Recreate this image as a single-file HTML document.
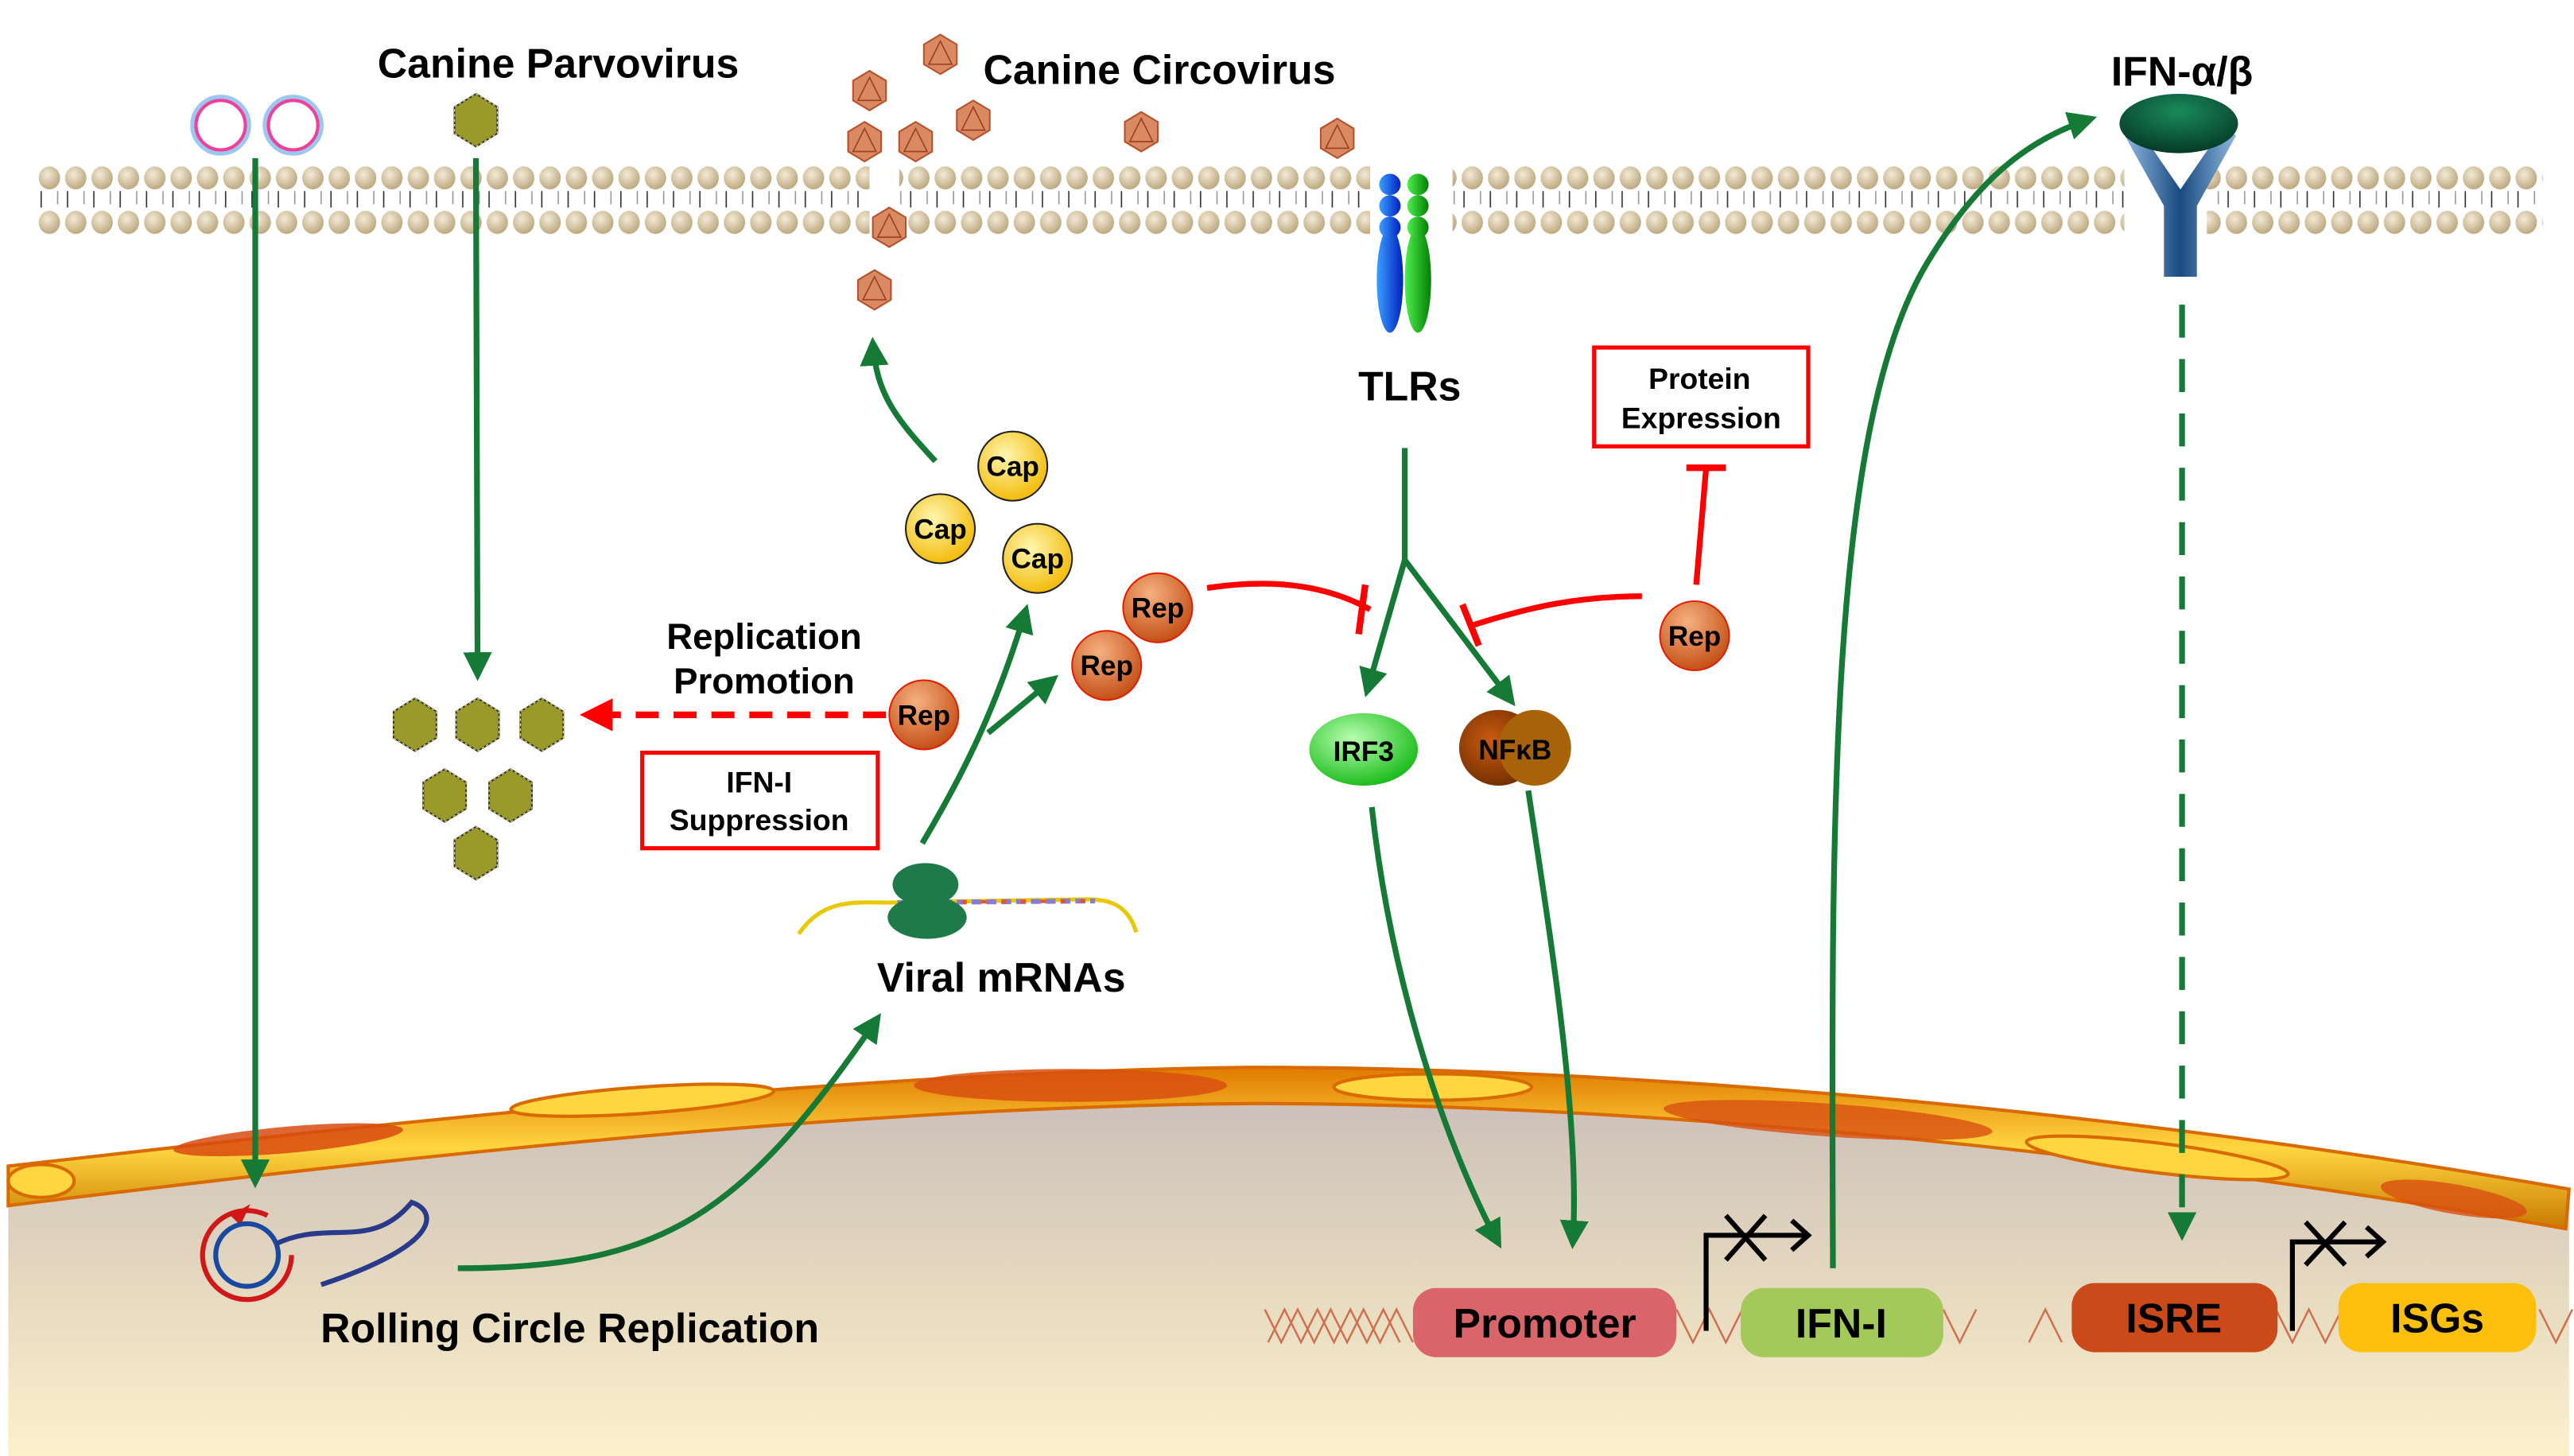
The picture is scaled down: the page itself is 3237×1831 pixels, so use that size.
<!DOCTYPE html>
<html><head><meta charset="utf-8"><style>
html,body{margin:0;padding:0;background:#fff;}
svg{display:block;}
text{font-family:"Liberation Sans",Arial,sans-serif;font-weight:bold;fill:#000;}
</style></head><body>
<svg width="3237" height="1831" viewBox="0 0 1563 884" preserveAspectRatio="none" xmlns="http://www.w3.org/2000/svg">
<defs>
<radialGradient id="head" cx="0.4" cy="0.35" r="0.7"><stop offset="0" stop-color="#f3ead6"/><stop offset="1" stop-color="#b9a47a"/></radialGradient>
<pattern id="mem" x="22" y="98" width="16" height="46" patternUnits="userSpaceOnUse">
<ellipse cx="8" cy="10" rx="6.5" ry="7" fill="url(#head)"/>
<ellipse cx="8" cy="37" rx="6.5" ry="7" fill="url(#head)"/>
<line x1="3" y1="18" x2="3" y2="28" stroke="#333" stroke-width="0.8"/>
<line x1="13" y1="18" x2="13" y2="26" stroke="#999" stroke-width="0.8"/>
</pattern>
<linearGradient id="nuc" x1="0" y1="0" x2="0" y2="1"><stop offset="0" stop-color="#c9bcb8"/><stop offset="0.5" stop-color="#e2d6bf"/><stop offset="1" stop-color="#fcf1cb"/></linearGradient>
<linearGradient id="env" x1="0" y1="0" x2="0" y2="1"><stop offset="0" stop-color="#e07a00"/><stop offset="0.5" stop-color="#ffd640"/><stop offset="1" stop-color="#c87a00"/></linearGradient>
<radialGradient id="cap" cx="0.4" cy="0.35" r="0.7"><stop offset="0" stop-color="#fff6b0"/><stop offset="1" stop-color="#f2b800"/></radialGradient>
<radialGradient id="rep" cx="0.4" cy="0.3" r="0.75"><stop offset="0" stop-color="#f6b080"/><stop offset="1" stop-color="#c14a10"/></radialGradient>
<radialGradient id="irf" cx="0.4" cy="0.35" r="0.7"><stop offset="0" stop-color="#b8ffb0"/><stop offset="1" stop-color="#14b814"/></radialGradient>
<radialGradient id="nfk" cx="0.4" cy="0.4" r="0.7"><stop offset="0" stop-color="#c85a10"/><stop offset="1" stop-color="#6a2a00"/></radialGradient>
<radialGradient id="ifnh" cx="0.5" cy="0.3" r="0.7"><stop offset="0" stop-color="#1a8a5a"/><stop offset="1" stop-color="#053a28"/></radialGradient>
<linearGradient id="stalk" x1="0" y1="0" x2="1" y2="0"><stop offset="0" stop-color="#8fb8e0"/><stop offset="0.5" stop-color="#1a4a80"/><stop offset="1" stop-color="#8fb8e0"/></linearGradient>
<linearGradient id="tlrb" x1="0" y1="0" x2="1" y2="0"><stop offset="0" stop-color="#3aa0ff"/><stop offset="1" stop-color="#0020c0"/></linearGradient>
<linearGradient id="tlrg" x1="0" y1="0" x2="1" y2="0"><stop offset="0" stop-color="#50f050"/><stop offset="1" stop-color="#008000"/></linearGradient>
<marker id="ga" viewBox="0 0 10 10" refX="8" refY="5" markerWidth="5" markerHeight="5" orient="auto"><path d="M0,0 L10,5 L0,10 z" fill="#147a36"/></marker>
<marker id="ra" viewBox="0 0 10 10" refX="8" refY="5" markerWidth="5" markerHeight="5" orient="auto"><path d="M0,0 L10,5 L0,10 z" fill="#f00"/></marker>
<g id="parvo"><polygon points="0,-16 13,-8 13,8 0,16 -13,8 -13,-8" fill="#9a9a2a" stroke="#333" stroke-width="1"/><polygon points="0,-16 13,-8 13,8 0,16 -13,8 -13,-8" fill="none" stroke="#e8e060" stroke-width="0.6" stroke-dasharray="1.5 1.5"/></g>
<g id="circo"><polygon points="0,-12 10,-6 10,6 0,12 -10,6 -10,-6" fill="#d98a62" stroke="#b5502a" stroke-width="1"/><polygon points="0,-8 7,6 -7,6" fill="none" stroke="#a04020" stroke-width="0.8"/></g>
</defs>

<!-- membrane -->
<rect x="22" y="98" width="506" height="46" fill="url(#mem)"/>
<rect x="546" y="98" width="286" height="46" fill="url(#mem)"/>
<rect x="878" y="98" width="412" height="46" fill="url(#mem)"/>
<rect x="1340" y="98" width="204" height="46" fill="url(#mem)"/>

<!-- nucleus -->
<path d="M5,712 C200,690 500,655 760,652 C1000,652 1300,680 1560,728 L1560,884 L5,884 Z" fill="url(#nuc)"/>
<path d="M5,708 C200,686 500,651 760,648 C1000,648 1300,676 1560,722 L1558,746 C1300,700 1000,670 760,670 C500,672 200,708 5,732 Z" fill="url(#env)" stroke="#d86a00" stroke-width="2"/>
<ellipse cx="175" cy="692" rx="70" ry="8" fill="#d84a10" transform="rotate(-5 175 692)" opacity="0.85"/>
<ellipse cx="390" cy="668" rx="80" ry="8" fill="#ffd640" stroke="#d86a00" stroke-width="2" transform="rotate(-4 390 668)"/>
<ellipse cx="650" cy="659" rx="95" ry="10" fill="#d85010" opacity="0.85"/>
<ellipse cx="870" cy="660" rx="60" ry="8" fill="#ffd640" stroke="#d86a00" stroke-width="2"/>
<ellipse cx="1110" cy="680" rx="100" ry="10" fill="#d85010" opacity="0.8" transform="rotate(4 1110 680)"/>
<ellipse cx="1310" cy="703" rx="80" ry="9" fill="#ffd640" stroke="#d86a00" stroke-width="2" transform="rotate(7 1310 703)"/>
<ellipse cx="1490" cy="728" rx="45" ry="9" fill="#d85010" opacity="0.8" transform="rotate(10 1490 728)"/>
<ellipse cx="25" cy="717" rx="20" ry="10" fill="#ffd640" stroke="#d86a00" stroke-width="2"/>

<!-- vesicles -->
<circle cx="134" cy="76" r="17" fill="#fff" stroke="#9cc8f0" stroke-width="3"/><circle cx="134" cy="76" r="15" fill="none" stroke="#f0409a" stroke-width="2"/>
<circle cx="178" cy="76" r="17" fill="#fff" stroke="#9cc8f0" stroke-width="3"/><circle cx="178" cy="76" r="15" fill="none" stroke="#f0409a" stroke-width="2"/>

<text x="339" y="47" font-size="25" text-anchor="middle">Canine Parvovirus</text>
<text x="704" y="51" font-size="25" text-anchor="middle">Canine Circovirus</text>
<text x="1325" y="52" font-size="25" text-anchor="middle">IFN-α/β</text>

<use href="#parvo" x="289" y="73"/>
<use href="#parvo" x="252" y="440"/><use href="#parvo" x="290" y="440"/><use href="#parvo" x="329" y="440"/>
<use href="#parvo" x="270" y="483"/><use href="#parvo" x="310" y="483"/><use href="#parvo" x="289" y="518"/>

<use href="#circo" x="571" y="33"/><use href="#circo" x="528" y="55"/><use href="#circo" x="525" y="86"/>
<use href="#circo" x="556" y="86"/><use href="#circo" x="591" y="73"/><use href="#circo" x="693" y="80"/>
<use href="#circo" x="812" y="84"/><use href="#circo" x="540" y="138"/><use href="#circo" x="531" y="176"/>

<!-- green arrows -->
<g stroke="#147a36" stroke-width="3.5" fill="none" marker-end="url(#ga)">
<line x1="155" y1="96" x2="155" y2="718"/>
<line x1="289" y1="96" x2="290" y2="410"/>
<path d="M568,280 C545,255 532,240 530,208"/>
<path d="M560,512 C585,470 605,430 623,370"/>
<path d="M600,445 L640,412"/>
<path d="M853,340 L830,420"/>
<path d="M853,340 L918,426"/>
<path d="M833,490 C845,600 880,700 910,755"/>
<path d="M928,480 C940,560 960,680 955,755"/>
<path d="M278,770 C400,770 450,740 533,618"/>
<path d="M1113,770 C1112,500 1110,260 1170,160 C1200,110 1230,85 1270,72"/>
</g>
<line x1="853" y1="272" x2="853" y2="342" stroke="#147a36" stroke-width="3.5"/>
<line x1="1325" y1="185" x2="1325" y2="750" stroke="#147a36" stroke-width="3.5" stroke-dasharray="20 13" marker-end="url(#ga)"/>

<!-- red -->
<line x1="538" y1="434" x2="356" y2="434" stroke="#f00" stroke-width="4" stroke-dasharray="14 9" marker-end="url(#ra)"/>
<path d="M733,357 C780,350 810,358 832,370" stroke="#f00" stroke-width="3.5" fill="none"/>
<line x1="829" y1="355" x2="825" y2="385" stroke="#f00" stroke-width="4"/>
<path d="M997,362 C960,362 930,368 893,380" stroke="#f00" stroke-width="3.5" fill="none"/>
<line x1="888" y1="367" x2="898" y2="392" stroke="#f00" stroke-width="4"/>
<line x1="1030" y1="355" x2="1036" y2="284" stroke="#f00" stroke-width="3.5"/>
<line x1="1024" y1="284" x2="1048" y2="284" stroke="#f00" stroke-width="4"/>

<!-- boxes -->
<rect x="390" y="457" width="143" height="58" fill="#fff" stroke="#f00" stroke-width="2.5"/>
<text x="461" y="481" font-size="18" text-anchor="middle">IFN-I</text>
<text x="461" y="504" font-size="18" text-anchor="middle">Suppression</text>
<rect x="968" y="211" width="130" height="60" fill="#fff" stroke="#f00" stroke-width="2.5"/>
<text x="1032" y="236" font-size="18" text-anchor="middle">Protein</text>
<text x="1033" y="260" font-size="18" text-anchor="middle">Expression</text>
<text x="464" y="394" font-size="22" text-anchor="middle">Replication</text>
<text x="464" y="421" font-size="22" text-anchor="middle">Promotion</text>

<!-- cap / rep -->
<g font-size="17" text-anchor="middle">
<circle cx="615" cy="283" r="21" fill="url(#cap)" stroke="#222" stroke-width="1"/><text x="615" y="289">Cap</text>
<circle cx="571" cy="321" r="21" fill="url(#cap)" stroke="#222" stroke-width="1"/><text x="571" y="327">Cap</text>
<circle cx="630" cy="339" r="21" fill="url(#cap)" stroke="#222" stroke-width="1"/><text x="630" y="345">Cap</text>
<circle cx="703" cy="369" r="21" fill="url(#rep)" stroke="#e02000" stroke-width="1"/><text x="703" y="375">Rep</text>
<circle cx="672" cy="404" r="21" fill="url(#rep)" stroke="#e02000" stroke-width="1"/><text x="672" y="410">Rep</text>
<circle cx="561" cy="434" r="21" fill="url(#rep)" stroke="#e02000" stroke-width="1"/><text x="561" y="440">Rep</text>
<circle cx="1029" cy="386" r="21" fill="url(#rep)" stroke="#e02000" stroke-width="1"/><text x="1029" y="392">Rep</text>
</g>

<!-- TLRs -->
<rect x="832" y="98" width="50" height="48" fill="#fff"/>
<ellipse cx="844" cy="170" rx="8" ry="32" fill="url(#tlrb)"/>
<ellipse cx="861" cy="170" rx="8" ry="32" fill="url(#tlrg)"/>
<circle cx="844" cy="112" r="6.5" fill="url(#tlrb)"/><circle cx="844" cy="125" r="6.5" fill="url(#tlrb)"/><circle cx="844" cy="138" r="6.5" fill="url(#tlrb)"/>
<circle cx="861" cy="112" r="6.5" fill="url(#tlrg)"/><circle cx="861" cy="125" r="6.5" fill="url(#tlrg)"/><circle cx="861" cy="138" r="6.5" fill="url(#tlrg)"/>
<text x="856" y="243" font-size="25" text-anchor="middle">TLRs</text>

<!-- IFN receptor -->
<rect x="1292" y="98" width="48" height="48" fill="#fff"/>
<path d="M1290,82 L1314,125 L1314,168 L1334,168 L1334,125 L1358,82 L1348,80 L1324,115 L1300,80 Z" fill="url(#stalk)"/>
<ellipse cx="1323" cy="75" rx="36" ry="18" fill="url(#ifnh)"/>

<!-- IRF3 NFkB -->
<ellipse cx="828" cy="455" rx="33" ry="22" fill="url(#irf)"/>
<text x="828" y="462" font-size="17" text-anchor="middle">IRF3</text>
<ellipse cx="910" cy="454" rx="24" ry="23" fill="url(#nfk)"/>
<ellipse cx="932" cy="454" rx="22" ry="23" fill="#a8620a"/>
<text x="920" y="461" font-size="17" text-anchor="middle">NFκB</text>

<!-- viral mRNA -->
<path d="M485,567 C500,545 520,548 540,548 L660,546 C675,546 685,550 690,566" stroke="#e8c800" stroke-width="2.5" fill="none"/>
<line x1="545" y1="548" x2="665" y2="547" stroke="#8a7ad0" stroke-width="3" stroke-dasharray="6 3"/>
<line x1="548" y1="548" x2="665" y2="547" stroke="#f05020" stroke-width="2" stroke-dasharray="3 9"/>
<ellipse cx="562" cy="537" rx="20" ry="13" fill="#1f7a4a"/>
<ellipse cx="563" cy="557" rx="24" ry="13" fill="#1f7a4a"/>
<text x="608" y="602" font-size="25" text-anchor="middle">Viral mRNAs</text>

<!-- rolling circle -->
<circle cx="150" cy="762" r="27" fill="none" stroke="#d01818" stroke-width="3" stroke-dasharray="140 30"/>
<path d="M140,738 L152,731 L146,744" fill="#d01818"/>
<circle cx="150" cy="762" r="19" fill="none" stroke="#1a4aa0" stroke-width="3"/>
<path d="M168,755 C200,740 225,760 250,730 C265,735 270,755 195,780" fill="none" stroke="#2a3a8a" stroke-width="3"/>
<text x="346" y="815" font-size="25" text-anchor="middle">Rolling Circle Replication</text>

<!-- DNA -->
<g stroke="#d07050" stroke-width="1.2" fill="none">
<path d="M768,795 l10,20 l10,-20 l10,20 l10,-20 l10,20 l10,-20 l10,20 l10,-20 l10,20"/>
<path d="M770,815 l10,-20 l10,20 l10,-20 l10,20 l10,-20 l10,20 l10,-20 l10,20"/>
<path d="M1018,795 l10,20 l10,-20 l10,20 l10,-20"/>
<path d="M1180,795 l10,20 l10,-20 M1232,815 l10,-20 l10,20"/>
<path d="M1382,795 l10,20 l10,-20 l10,20 l10,-20 M1542,795 l10,20 l10,-20"/>
</g>
<rect x="858" y="782" width="160" height="42" rx="14" fill="#d9646a"/>
<text x="938" y="812" font-size="25" text-anchor="middle">Promoter</text>
<rect x="1057" y="782" width="123" height="42" rx="14" fill="#a3c95a"/>
<text x="1118" y="812" font-size="25" text-anchor="middle">IFN-I</text>
<rect x="1258" y="779" width="125" height="42" rx="14" fill="#cc4a1a"/>
<text x="1320" y="809" font-size="25" text-anchor="middle">ISRE</text>
<rect x="1420" y="779" width="120" height="42" rx="14" fill="#fbbf0c"/>
<text x="1480" y="809" font-size="25" text-anchor="middle">ISGs</text>

<!-- TSS arrows -->
<g stroke="#000" stroke-width="3" fill="none">
<path d="M1036,808 L1036,750 L1098,750 M1088,741 L1098,750 L1088,759"/>
<path d="M1048,738 L1072,765 M1072,738 L1048,765"/>
<path d="M1392,808 L1392,754 L1447,754 M1437,745 L1447,754 L1437,763"/>
<path d="M1400,742 L1424,768 M1424,742 L1400,768"/>
</g>
</svg>
</body></html>
